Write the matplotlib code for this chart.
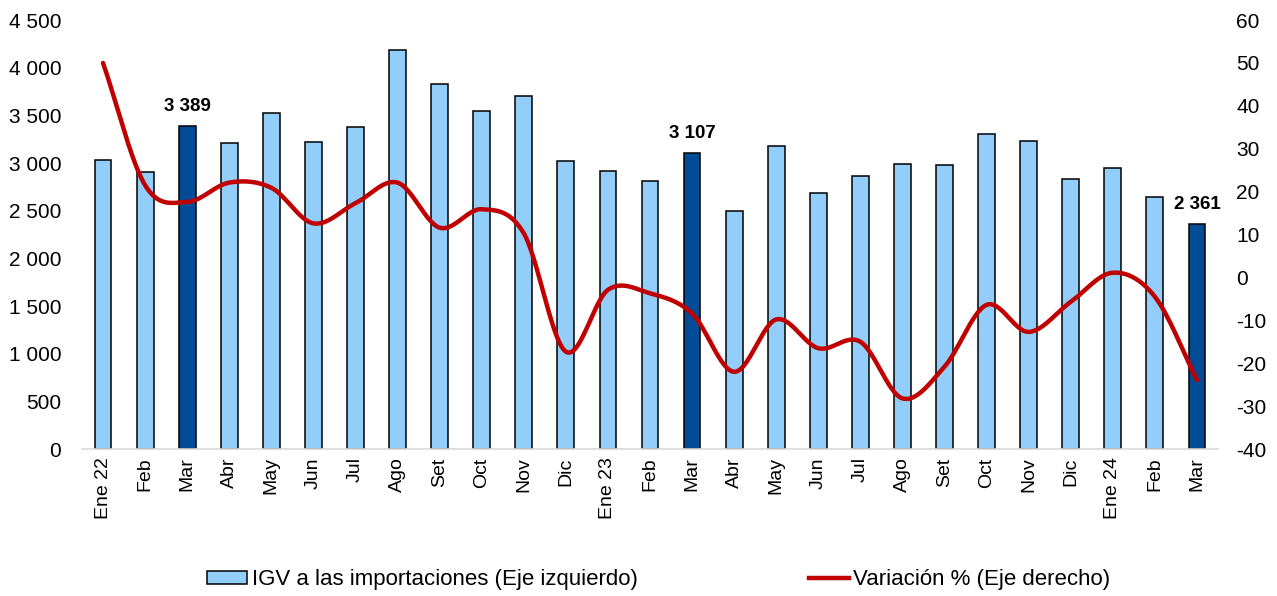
import numpy as np
import matplotlib
matplotlib.use("Agg")
import matplotlib.pyplot as plt
from matplotlib.ticker import FuncFormatter, MultipleLocator
from matplotlib.patches import Patch
from matplotlib.lines import Line2D

plt.rcParams['font.family'] = ['Liberation Sans', 'DejaVu Sans']
plt.rcParams['axes.unicode_minus'] = False

labels = ["Ene 22", "Feb", "Mar", "Abr", "May", "Jun", "Jul", "Ago", "Set", "Oct", "Nov", "Dic",
          "Ene 23", "Feb", "Mar", "Abr", "May", "Jun", "Jul", "Ago", "Set", "Oct", "Nov", "Dic",
          "Ene 24", "Feb", "Mar"]
igv = [3030, 2906, 3389, 3210, 3525, 3220, 3378, 4185, 3829, 3546, 3703, 3020,
       2916, 2810, 3107, 2498, 3178, 2684, 2866, 2990, 2977, 3304, 3231, 2830,
       2948, 2645, 2361]
variacion = [50.0, 21.5, 17.6, 22.1, 20.9, 12.6, 17.3, 22.1, 11.6, 15.9, 10.3, -17.3,
             -2.9, -3.7, -8.4, -22.0, -9.8, -16.5, -15.0, -28.2, -20.8, -6.4, -12.7, -5.7,
             1.1, -4.5, -23.9]
highlight = [2, 14, 26]

light = "#92CEF9"
dark = "#004C97"
red = "#C00000"

fig = plt.figure(figsize=(12.77, 5.96), dpi=100)
ax = fig.add_axes([0.0642, 0.2466, 0.8896, 0.7198])
ax2 = ax.twinx()
ax.set_zorder(1)
ax2.set_zorder(2)
ax.patch.set_visible(False)

x = np.arange(len(labels))
colors = [dark if i in highlight else light for i in range(len(labels))]
ax.bar(x, igv, width=0.40, color=colors, edgecolor="black", linewidth=1.1, zorder=2)

for i in highlight:
    ax.text(x[i], igv[i] + 110, f"{igv[i]:,}".replace(",", " "), ha="center", va="bottom",
            fontsize=13.5, fontweight="bold")

# Catmull-Rom smoothing (Excel-like smoothed line)
def catmull(xs, ys, n=30):
    xs = np.asarray(xs, float); ys = np.asarray(ys, float)
    px = np.concatenate([[2*xs[0]-xs[1]], xs, [2*xs[-1]-xs[-2]]])
    py = np.concatenate([[2*ys[0]-ys[1]], ys, [2*ys[-1]-ys[-2]]])
    ox, oy = [], []
    for i in range(1, len(px)-2):
        t = np.linspace(0, 1, n, endpoint=False)
        for arr, out in ((px, ox), (py, oy)):
            p0, p1, p2, p3 = arr[i-1], arr[i], arr[i+1], arr[i+2]
            out.extend(0.5*((2*p1) + (-p0+p2)*t + (2*p0-5*p1+4*p2-p3)*t**2 + (-p0+3*p1-3*p2+p3)*t**3))
    ox.append(xs[-1]); oy.append(ys[-1])
    return np.array(ox), np.array(oy)

sx, sy = catmull(x, variacion)
ax2.plot(sx, sy, color=red, linewidth=3.2, solid_capstyle="round")

ax.set_xlim(-0.5, len(labels) - 0.5)
ax.set_ylim(0, 4500)
ax.yaxis.set_major_locator(MultipleLocator(500))
ax.yaxis.set_major_formatter(FuncFormatter(lambda v, p: f"{int(v):,}".replace(",", " ")))
ax2.set_ylim(-40, 60)
ax2.yaxis.set_major_locator(MultipleLocator(10))

ax.set_xticks(x)
ax.set_xticklabels(labels, rotation=90)
for a in (ax, ax2):
    for s in ["top", "left", "right", "bottom"]:
        a.spines[s].set_visible(False)
ax.spines["bottom"].set_visible(True)
ax.spines["bottom"].set_color("#D9D9D9")
ax.spines["bottom"].set_linewidth(1.2)

ax.tick_params(axis="y", length=0, labelsize=15, pad=15)
ax.tick_params(axis="x", length=0, labelsize=14, pad=6)
ax2.tick_params(axis="y", length=0, labelsize=15, pad=13)

handles = [Patch(facecolor=light, edgecolor="black", linewidth=1.1),
           Line2D([0], [0], color=red, linewidth=3.2)]
fig.legend(handles, ["IGV a las importaciones (Eje izquierdo)", "Variación % (Eje derecho)"],
           loc="center", bbox_to_anchor=(0.516, 0.027), ncol=2, frameon=False,
           fontsize=16, handlelength=1.8, handleheight=0.5, handletextpad=0.2,
           columnspacing=7.7)

fig.savefig("out.png", dpi=100)
